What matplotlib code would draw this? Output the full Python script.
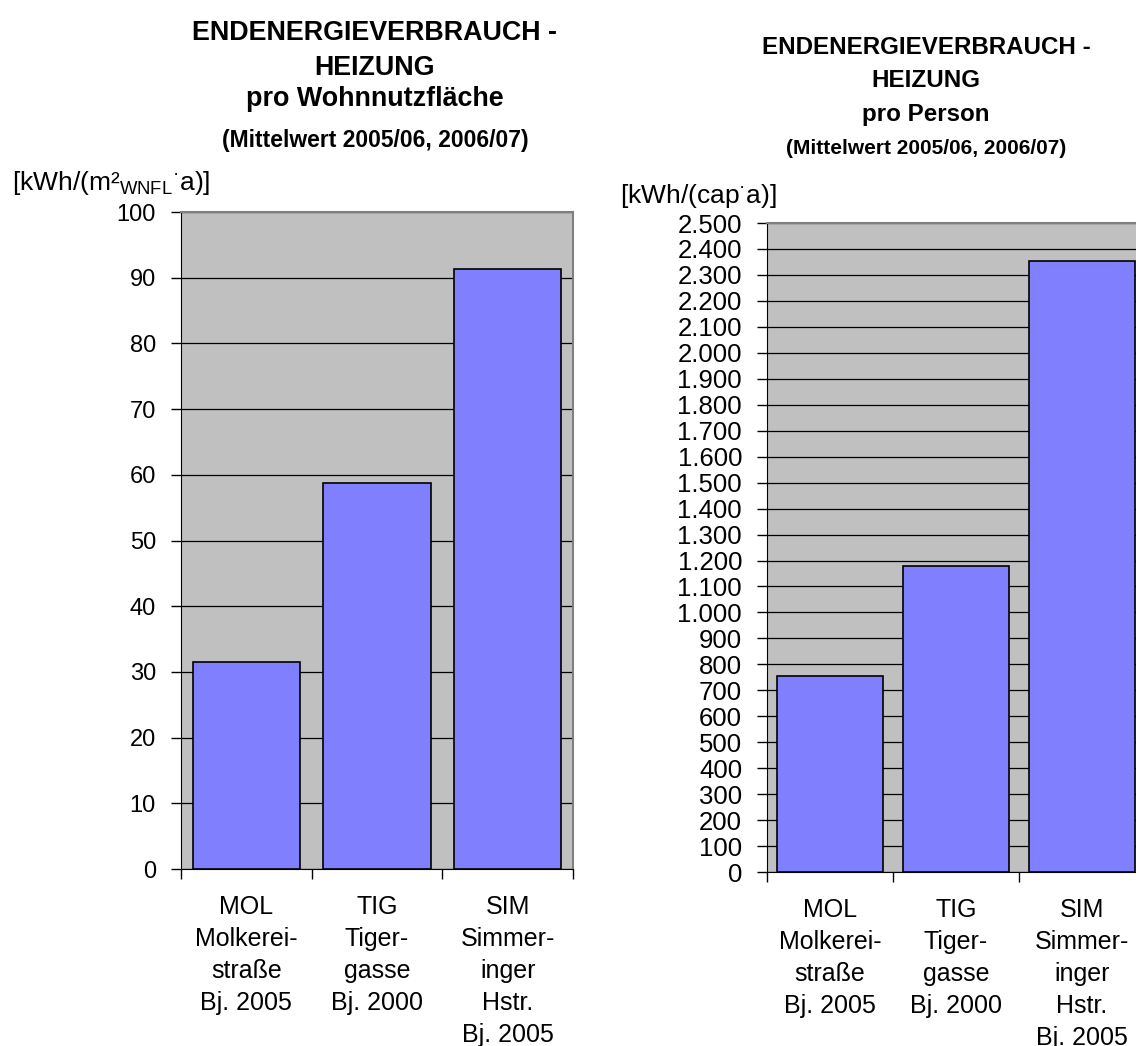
import matplotlib.pyplot as plt
from matplotlib.ticker import FuncFormatter, MultipleLocator

plt.rcParams['font.family'] = ['Liberation Sans', 'DejaVu Sans']
plt.rcParams['mathtext.fontset'] = 'custom'
plt.rcParams['mathtext.rm'] = 'Liberation Sans'

# Wohnanlagen (Kurzname, Straße, Baujahr)
standorte = ['MOL\nMolkerei-\nstraße\nBj. 2005',
             'TIG\nTiger-\ngasse\nBj. 2000',
             'SIM\nSimmer-\ninger\nHstr.\nBj. 2005']

# Heizenergie, Mittelwert der Heizperioden 2005/06 und 2006/07
heizung_flaeche = [31.5, 58.7, 91.4]    # kWh/(m² WNFL a)
heizung_person = [754, 1180, 2353]      # kWh/(cap a)

BAR = '#8080FF'
PLOT_BG = '#C0C0C0'


def punkt_tausender(v, pos):
    return f'{v:,.0f}'.replace(',', '.')


def balken(ax, werte, ymax, schritt, breite, ytick_size):
    x = list(range(len(werte)))
    ax.set_facecolor(PLOT_BG)
    ax.yaxis.grid(True, color='#000000', lw=0.9)
    ax.set_axisbelow(True)
    ax.bar(x, werte, width=breite, color=BAR, edgecolor='black', lw=1.2, zorder=3)
    ax.set_xlim(-0.5, len(werte) - 0.5)
    ax.set_ylim(0, ymax)
    ax.yaxis.set_major_locator(MultipleLocator(schritt))
    # Teilstriche zwischen den Kategorien, Beschriftung in der Mitte
    ax.set_xticks([i - 0.5 for i in range(len(werte) + 1)])
    ax.set_xticklabels([])
    ax.set_xticks(x, minor=True)
    ax.set_xticklabels(standorte, minor=True, fontsize=18, linespacing=1.42,
                       va='top')
    ax.tick_params(axis='x', which='major', length=7, width=1, direction='out')
    ax.tick_params(axis='x', which='minor', length=0, pad=19)
    ax.tick_params(axis='y', length=7, width=1, pad=11, labelsize=ytick_size)
    for s in ('left', 'bottom'):
        ax.spines[s].set_color('black')
    for s in ('top', 'right'):
        ax.spines[s].set_color('#808080')
        ax.spines[s].set_linewidth(1.5)


fig = plt.figure(figsize=(11.36, 10.46), dpi=100)

ax1 = fig.add_axes([0.1593, 0.1692, 0.3451, 0.6281])
balken(ax1, heizung_flaeche, 100, 10, 0.82, 17)

ax2 = fig.add_axes([0.6752, 0.1663, 0.3327, 0.6205])
balken(ax2, heizung_person, 2500, 100, 0.84, 18.5)
ax2.yaxis.set_major_formatter(FuncFormatter(punkt_tausender))

H = 1046
W = 1136

# Überschriften links
lx = 375 / W
fig.text(lx, 1 - 40 / H, 'ENDENERGIEVERBRAUCH -', ha='center', va='baseline',
         fontsize=19.4, fontweight='bold')
fig.text(lx, 1 - 75 / H, 'HEIZUNG', ha='center', va='baseline',
         fontsize=19.4, fontweight='bold')
fig.text(lx, 1 - 106 / H, 'pro Wohnnutzfläche', ha='center', va='baseline',
         fontsize=19.4, fontweight='bold')
fig.text(lx, 1 - 147 / H, '(Mittelwert 2005/06, 2006/07)', ha='center',
         va='baseline', fontsize=16.5, fontweight='bold')

# Überschriften rechts
rx = 926 / W
fig.text(rx, 1 - 54 / H, 'ENDENERGIEVERBRAUCH -', ha='center', va='baseline',
         fontsize=17.4, fontweight='bold')
fig.text(rx, 1 - 87 / H, 'HEIZUNG', ha='center', va='baseline',
         fontsize=17.4, fontweight='bold')
fig.text(rx, 1 - 121 / H, 'pro Person', ha='center', va='baseline',
         fontsize=17.4, fontweight='bold')
fig.text(rx, 1 - 154 / H, '(Mittelwert 2005/06, 2006/07)', ha='center',
         va='baseline', fontsize=15, fontweight='bold')

# Einheiten
fig.text(12 / W, 1 - 190 / H,
         '[kWh/(m²$_{\\mathregular{WNFL}}$$^{\\mathregular{·}}$a)]',
         ha='left', va='baseline', fontsize=19)
fig.text(620 / W, 1 - 203 / H, '[kWh/(cap$^{\\mathregular{·}}$a)]',
         ha='left', va='baseline', fontsize=19)

fig.savefig('out.png', dpi=100)
